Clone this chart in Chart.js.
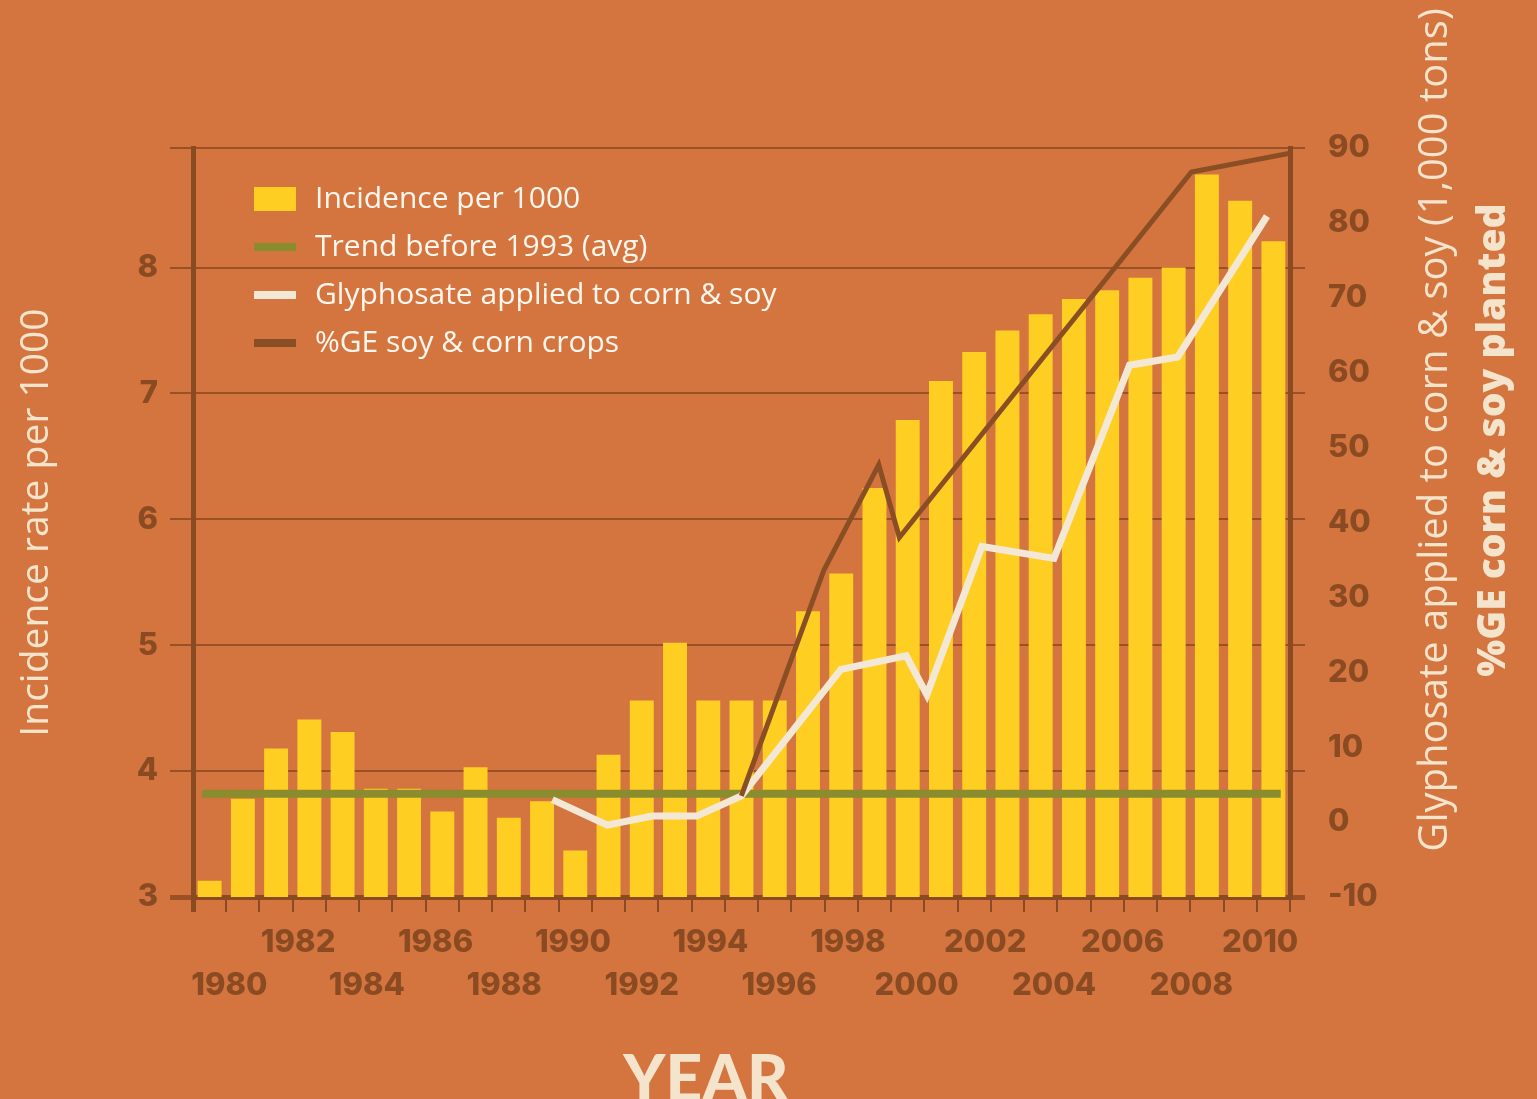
<!DOCTYPE html>
<html>
<head>
<meta charset="utf-8">
<title>Incidence per 1000, glyphosate and GE crops</title>
<script src="https://cdn.jsdelivr.net/npm/chart.js@4.4.1/dist/chart.umd.min.js"></script>
<style>
  html, body { margin: 0; padding: 0; background: #d47540; }
  #wrap { width: 1537px; height: 1099px; position: relative; }
</style>
</head>
<body>
<div id="wrap"><canvas id="grafico"></canvas></div>
<script>
// una barra por año
const anios = [1978, 1979, 1980, 1981, 1982, 1983, 1984, 1985, 1986, 1987, 1988,
               1989, 1990, 1991, 1992, 1993, 1994, 1995, 1996, 1997, 1998, 1999,
               2000, 2001, 2002, 2003, 2004, 2005, 2006, 2007, 2008, 2009, 2010]
const incidencia = [3.13, 3.78, 4.18, 4.41, 4.31, 3.86, 3.86, 3.68, 4.03, 3.63, 3.76,
                    3.37, 4.13, 4.56, 5.02, 4.56, 4.56, 4.56, 5.27, 5.57, 6.25, 6.79,
                    7.10, 7.33, 7.50, 7.63, 7.75, 7.82, 7.92, 8.00, 8.74, 8.53, 8.21]

// promedio antes de 1993 (linea plana)
const tendenciaX = [1979.2, 2010.6]
const tendenciaY = [3.82, 3.82]

// glifosato (1,000 tons) - eje derecho
const glifosatoX = [1989.4, 1991.0, 1992.3, 1993.6, 1994.9, 1997.8, 1999.7, 2000.3, 2001.9, 2004.0, 2006.2, 2007.6, 2010.2]
const glifosatoY = [3.0, -0.4, 0.8, 0.8, 3.5, 20.4, 22.2, 17.0, 36.8, 35.2, 61.0, 62.1, 80.9]

// %GE soya y maiz - eje derecho
const geX = [1994.9, 1997.3, 1998.9, 1999.5, 2008.0, 2010.87]
const geY = [3.5, 33.6, 47.7, 38.0, 86.8, 89.3]

// etiquetas de los ejes
const etiquetasAnio = [1980, 1982, 1984, 1986, 1988, 1990, 1992, 1994, 1996, 1998, 2000, 2002, 2004, 2006, 2008, 2010]
const ticksIncidencia = [3, 4, 5, 6, 7, 8]
const ticksDerecha = [-10, 0, 10, 20, 30, 40, 50, 60, 70, 80, 90]

const cafe = '#8b4b22'
const rejilla = '#9a5127'
const crema = '#f5e4cc'

const puntos = (xs, ys) => xs.map((x, i) => ({ x: x, y: ys[i] }))

// leyenda dentro del area
const leyendaPlugin = {
    id: 'leyendaPropia',
    afterDatasetsDraw(chart) {
        const { ctx, chartArea } = chart
        const x0 = chartArea.left + 61
        let y = chartArea.top + 51
        ctx.save()
        ctx.font = '400 30px "Open Sans"'
        ctx.textBaseline = 'middle'
        chart.data.datasets.forEach(ds => {
            if (ds.type === 'bar') {
                ctx.fillStyle = ds.backgroundColor
                ctx.fillRect(x0, y - 12, 42, 24)
            } else {
                ctx.fillStyle = ds.borderColor
                ctx.fillRect(x0, y - 4, 42, 8)
            }
            ctx.fillStyle = '#fff7ee'
            ctx.fillText(ds.label, x0 + 61, y)
            y += 48
        })
        ctx.restore()
    }
}

// titulos de la derecha y YEAR
const textosPlugin = {
    id: 'textosEjes',
    afterDraw(chart) {
        const { ctx, chartArea } = chart
        ctx.save()
        ctx.fillStyle = crema
        ctx.textAlign = 'center'
        ctx.textBaseline = 'middle'

        ctx.save()
        ctx.translate(chartArea.right + 146, chartArea.top + 282)
        ctx.rotate(-Math.PI / 2)
        ctx.font = '400 40px "Open Sans"'
        ctx.fillText('Glyphosate applied to corn & soy (1,000 tons)', 0, 0)
        ctx.restore()

        ctx.save()
        ctx.translate(chartArea.right + 204, chartArea.top + 292)
        ctx.rotate(-Math.PI / 2)
        ctx.font = '800 39px "Open Sans"'
        ctx.fillText('%GE corn & soy planted', 0, 0)
        ctx.restore()

        ctx.textBaseline = 'alphabetic'
        ctx.font = '900 64px Lato'
        ctx.fillText('YEAR', 706, chart.height + 2)
        ctx.restore()
    }
}

const fuenteTicks = { family: 'Inter', weight: '800', size: 31, lineHeight: 1.4 }

var ctx = document.getElementById('grafico')
var grafico = new Chart(ctx, {
    type: 'bar',
    data: {
        labels: anios,
        datasets: [
            {
                type: 'bar',
                label: 'Incidence per 1000',
                data: incidencia,
                backgroundColor: '#ffce22',
                grouped: false,
                barPercentage: 0.72,
                categoryPercentage: 1.0,
                xAxisID: 'x',
                yAxisID: 'y',
                order: 4
            },
            {
                type: 'line',
                label: 'Trend before 1993 (avg)',
                data: puntos(tendenciaX, tendenciaY),
                borderColor: '#8a8c2e',
                borderWidth: 8,
                pointRadius: 0,
                xAxisID: 'xAnio',
                yAxisID: 'y',
                order: 3
            },
            {
                type: 'line',
                label: 'Glyphosate applied to corn & soy',
                data: puntos(glifosatoX, glifosatoY),
                borderColor: '#f3e8d6',
                borderWidth: 7,
                borderJoinStyle: 'miter',
                pointRadius: 0,
                xAxisID: 'xAnio',
                yAxisID: 'y2',
                order: 2
            },
            {
                type: 'line',
                label: '%GE soy & corn crops',
                data: puntos(geX, geY),
                borderColor: '#8a4e24',
                borderWidth: 5,
                borderJoinStyle: 'miter',
                pointRadius: 0,
                xAxisID: 'xAnio',
                yAxisID: 'y2',
                order: 1
            }
        ]
    },
    options: {
        responsive: true,
        maintainAspectRatio: false,
        animation: false,
        events: [],
        layout: { padding: { top: 148, left: 0, right: 0, bottom: 0 } },
        plugins: {
            legend: { display: false },
            tooltip: { enabled: false }
        },
        scales: {
            x: {
                type: 'category',
                position: 'bottom',
                weight: 0,
                z: 1,
                offset: true,
                ticks: { display: false },
                grid: {
                    offset: true,
                    drawOnChartArea: false,
                    drawTicks: true,
                    tickLength: 15,
                    color: cafe,
                    lineWidth: c => (c.index === 0 || c.index === anios.length) ? 5 : 2
                },
                border: { display: true, color: cafe, width: 5 },
                afterFit: s => { s.height = 15 }
            },
            xAnio: {
                type: 'linear',
                position: 'bottom',
                weight: 1,
                offset: false,
                min: 1978.94,
                max: 2010.87,
                grid: { display: false, drawTicks: false, offset: false },
                border: { display: false },
                afterBuildTicks: s => { s.ticks = etiquetasAnio.map(v => ({ value: v })) },
                ticks: {
                    autoSkip: false,
                    maxRotation: 0,
                    minRotation: 0,
                    padding: 9,
                    color: cafe,
                    font: fuenteTicks,
                    callback: (v, i) => i % 2 === 0 ? ['', String(v)] : [String(v)]
                },
                afterFit: s => { s.height = 187 }
            },
            y: {
                type: 'linear',
                position: 'left',
                min: 3,
                max: 8.95,
                afterBuildTicks: s => {
                    s.ticks = ticksIncidencia.map(v => ({ value: v })).concat([{ value: s.max }])
                },
                ticks: {
                    padding: 12,
                    color: cafe,
                    font: fuenteTicks,
                    callback: v => ticksIncidencia.includes(v) ? String(v) : ''
                },
                grid: {
                    color: rejilla,
                    lineWidth: c => (c.tick && c.tick.value === 3) ? 5 : 2,
                    tickLength: 23
                },
                border: { display: true, color: cafe, width: 5 },
                title: {
                    display: true,
                    text: 'Incidence rate per 1000',
                    color: crema,
                    font: { family: 'Open Sans', weight: '400', size: 39, lineHeight: 1.2 },
                    padding: { top: 13, bottom: 0 }
                },
                afterFit: s => { s.width = 193 }
            },
            yBorde: {
                type: 'linear',
                position: 'right',
                weight: 0,
                min: 3,
                max: 8.95,
                afterBuildTicks: s => {
                    s.ticks = ticksIncidencia.map(v => ({ value: v })).concat([{ value: s.max }])
                },
                ticks: { display: false },
                grid: {
                    drawOnChartArea: false,
                    tickLength: 15,
                    color: rejilla,
                    lineWidth: c => (c.tick && c.tick.value === 3) ? 5 : 2
                },
                border: { display: true, color: cafe, width: 5 },
                afterFit: s => { s.width = 15 }
            },
            y2: {
                type: 'linear',
                position: 'right',
                weight: 1,
                min: -10,
                max: 90,
                afterBuildTicks: s => { s.ticks = ticksDerecha.map(v => ({ value: v })) },
                ticks: {
                    padding: 23,
                    color: cafe,
                    font: fuenteTicks
                },
                grid: { display: false, drawTicks: false },
                border: { display: false },
                afterFit: s => { s.width = 232 }
            }
        }
    },
    plugins: [leyendaPlugin, textosPlugin]
});
</script>
</body>
</html>
